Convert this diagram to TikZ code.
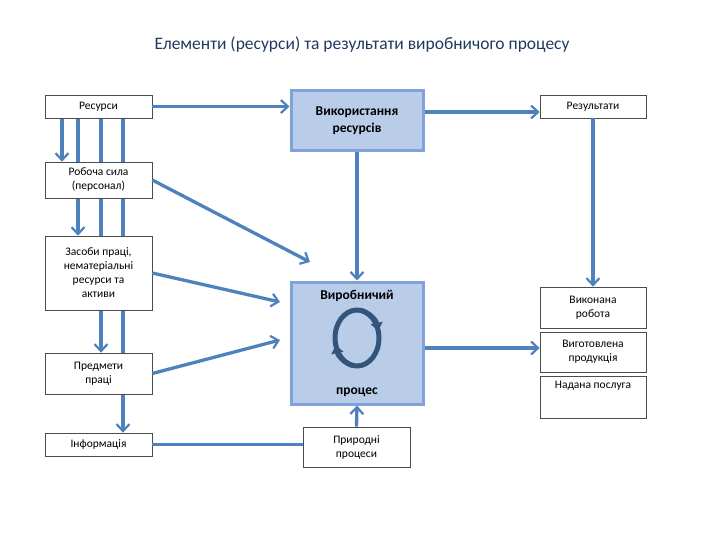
\documentclass[tikz,border=0pt]{standalone}
\usepackage{fontspec}
\setmainfont{Carlito}
\usetikzlibrary{arrows.meta,backgrounds}
\definecolor{ln}{HTML}{4F81BD}
\definecolor{bf}{HTML}{B9CDE8}
\definecolor{bd}{HTML}{7FA3D8}
\definecolor{tt}{HTML}{1F3A5F}
\begin{document}
\begin{tikzpicture}[x=1pt,y=-1pt,
  wbox/.style={draw=black!70,fill=white,line width=0.6pt,align=center,font=\fontsize{11.5}{14}\selectfont,inner sep=1pt},
  bbox/.style={draw=bd,fill=bf,line width=3pt,align=center,font=\bfseries\fontsize{13.5}{17}\selectfont},
  arr/.style={draw=ln,line width=3.3pt,-{Straight Barb[length=7pt,width=13pt,line width=2.2pt]}},
  ln/.style={draw=ln,line width=3.3pt}]
\useasboundingbox (0,0) rectangle (720,540);
\node[font=\fontsize{17.5}{20}\selectfont,text=tt] (title) at (362,45) {Елементи (ресурси) та результати виробничого процесу};
\node[wbox,minimum width=107pt,minimum height=23pt] (res) at (98.5,106.5) {Ресурси};
\node[wbox,minimum width=107pt,minimum height=36pt] (rob) at (98.5,180) {Робоча сила\\(персонал)};
\node[wbox,minimum width=107pt,minimum height=74pt] (zas) at (98.5,273) {Засоби праці,\\нематеріальні\\ресурси та\\активи};
\node[wbox,minimum width=107pt,minimum height=41pt] (pred) at (98.5,373.5) {Предмети\\праці};
\node[wbox,minimum width=107pt,minimum height=23pt] (inf) at (98.5,444.5) {Інформація};
\node[bbox,minimum width=132pt,minimum height=60pt] (vyk) at (357,121) {Використання\\ресурсів};
\node[bbox,minimum width=132pt,minimum height=122pt] (vyr) at (357,343) {};
\node[font=\bfseries\fontsize{13.5}{17}\selectfont] (vt1) at (357,296) {Виробничий};
\node[font=\bfseries\fontsize{13.5}{17}\selectfont] (vt2) at (357,392) {процес};
\node[wbox,minimum width=107pt,minimum height=40pt] (pryr) at (356.5,447) {Природні\\процеси};
\node[wbox,minimum width=106pt,minimum height=23pt] (rez) at (593,106.5) {Результати};
\node[wbox,minimum width=106pt,minimum height=41pt] (vkon) at (593,307.5) {Виконана\\робота};
\node[wbox,minimum width=106pt,minimum height=40pt] (vyg) at (593,352) {Виготовлена\\продукція};
\node[wbox,minimum width=106pt,minimum height=42pt,text depth=24pt] (nad) at (593,397) {Надана послуга};
\begin{scope}[on background layer]
\draw[arr] (62,118) -- (rob.north -| 62,0);
\draw[arr] (78,118) -- (zas.north -| 78,0);
\draw[arr] (101,118) -- (pred.north -| 101,0);
\draw[arr] (123,118) -- (inf.north -| 123,0);
\end{scope}
\draw[arr] (res.east) -- (vyk.west |- res.east);
\draw[arr] (rob.east) -- (310,262);
\draw[arr] (zas.east) -- (280,302);
\draw[arr] (pred.east) -- (280,340);
\draw[ln] (inf.east) -- (pryr.west |- inf.east);
\draw[arr] (vyk.south) -- (vyr.north);
\draw[arr] (pryr.north) -- (vyr.south);
\draw[arr] (vyk.east |- 0,112) -- (rez.west |- 0,112);
\draw[arr] (rez.south) -- (vkon.north);
\draw[arr] (vyr.east |- 0,348) -- (vyg.west |- 0,348);
% cycle icon
\coordinate (cyc) at (357,338);
\draw[draw=ln!65!black,line width=5pt,-{Triangle[length=8pt,width=12pt]}] ([shift={(100:22 and 28)}]cyc) arc[start angle=100,end angle=345,x radius=22,y radius=28];
\draw[draw=ln!65!black,line width=5pt,-{Triangle[length=8pt,width=12pt]}] ([shift={(280:22 and 28)}]cyc) arc[start angle=280,end angle=525,x radius=22,y radius=28];
\end{tikzpicture}
\end{document}
